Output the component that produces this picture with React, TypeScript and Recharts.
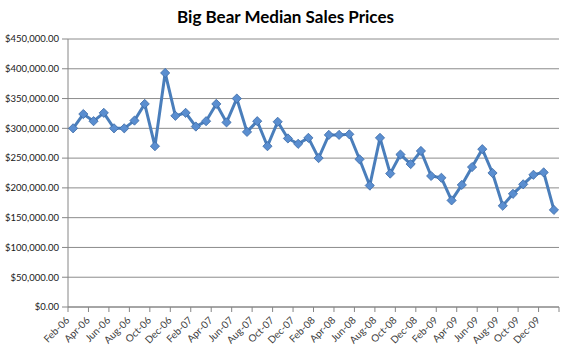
import { LineChart, Line, XAxis, YAxis, CartesianGrid } from 'recharts'

const months = [
  'Feb-06', 'Mar-06', 'Apr-06', 'May-06', 'Jun-06', 'Jul-06', 'Aug-06', 'Sep-06', 'Oct-06', 'Nov-06', 'Dec-06',
  'Jan-07', 'Feb-07', 'Mar-07', 'Apr-07', 'May-07', 'Jun-07', 'Jul-07', 'Aug-07', 'Sep-07', 'Oct-07', 'Nov-07', 'Dec-07',
  'Jan-08', 'Feb-08', 'Mar-08', 'Apr-08', 'May-08', 'Jun-08', 'Jul-08', 'Aug-08', 'Sep-08', 'Oct-08', 'Nov-08', 'Dec-08',
  'Jan-09', 'Feb-09', 'Mar-09', 'Apr-09', 'May-09', 'Jun-09', 'Jul-09', 'Aug-09', 'Sep-09', 'Oct-09', 'Nov-09', 'Dec-09',
  'Jan-10',
]

const prices = [
  300000, 324000, 312000, 326000, 300000, 300000, 313000, 341000, 270000, 393000, 321000,
  326000, 303000, 312000, 341000, 310000, 350000, 294000, 312000, 270000, 311000, 283000, 274000,
  284000, 250000, 289000, 289000, 290000, 248000, 204000, 284000, 224000, 256000, 240000, 262000,
  220000, 217000, 179000, 205000, 235000, 265000, 225000, 170000, 190000, 206000, 222000, 226000,
  163000,
]

const yTicks = [0, 50000, 100000, 150000, 200000, 250000, 300000, 350000, 400000, 450000]

const data = months.map((m, i) => ({ month: m, price: prices[i] }))

const FONT = 'Lato, "Open Sans", sans-serif'
const half = 5.1

const money = (v: number) =>
  '$' + v.toLocaleString('en-US', { minimumFractionDigits: 2, maximumFractionDigits: 2 })

const Diamond = (p: any) => {
  const { cx, cy } = p
  if (cx == null || cy == null) return null
  const r = 4.6
  return (
    <path
      d={`M${cx},${cy - r}L${cx + r},${cy}L${cx},${cy + r}L${cx - r},${cy}Z`}
      fill="#5a8ed0" stroke="#3b6aa6" strokeWidth={0.8}
    />
  )
}

const MonthTick = (p: any) => {
  const { x, y, payload, index } = p
  const out = []
  if (index % 2 === 0) {
    out.push(<line key="t" x1={x - half} x2={x - half} y1={y - 8} y2={y - 3} stroke="#868686" />)
    out.push(
      <text key="l" x={x - 3} y={y + 6} textAnchor="end" fontSize={10} fill="#404040"
        fontFamily={FONT} transform={`rotate(-45 ${x - 3} ${y + 6})`}>
        {payload.value}
      </text>
    )
  }
  if (index === months.length - 1) {
    out.push(<line key="e" x1={x + half} x2={x + half} y1={y - 8} y2={y - 3} stroke="#868686" />)
  }
  return <g>{out}</g>
}

export default function App() {
  return (
    <div style={{ position: 'absolute', left: 0, top: 0, width: 571, height: 352, background: '#fff' }}>
      <div style={{
        position: 'absolute', left: 0, width: 571, top: 6, textAlign: 'center',
        fontFamily: FONT, fontWeight: 'bold', fontSize: 17, color: '#000',
      }}>
        Big Bear Median Sales Prices
      </div>
      <LineChart width={571} height={352} data={data} margin={{ top: 39, right: 12, left: 0, bottom: 0 }}>
        <CartesianGrid vertical={false} stroke="#8c8c8c" />
        <XAxis
          dataKey="month" interval={0} height={45} padding={{ left: half, right: half }}
          axisLine={{ stroke: '#868686' }} tickLine={false} tick={<MonthTick />}
        />
        <YAxis
          domain={[0, 450000]} ticks={yTicks} width={68} tickFormatter={money}
          axisLine={{ stroke: '#868686' }} tickLine={{ stroke: '#868686' }} tickSize={6} tickMargin={3}
          tick={{ fontSize: 9.5, fill: '#202020', fontFamily: FONT }}
        />
        <Line
          dataKey="price" stroke="#4a7ebb" strokeWidth={3} dot={<Diamond />}
          activeDot={false} isAnimationActive={false}
        />
      </LineChart>
    </div>
  )
}
